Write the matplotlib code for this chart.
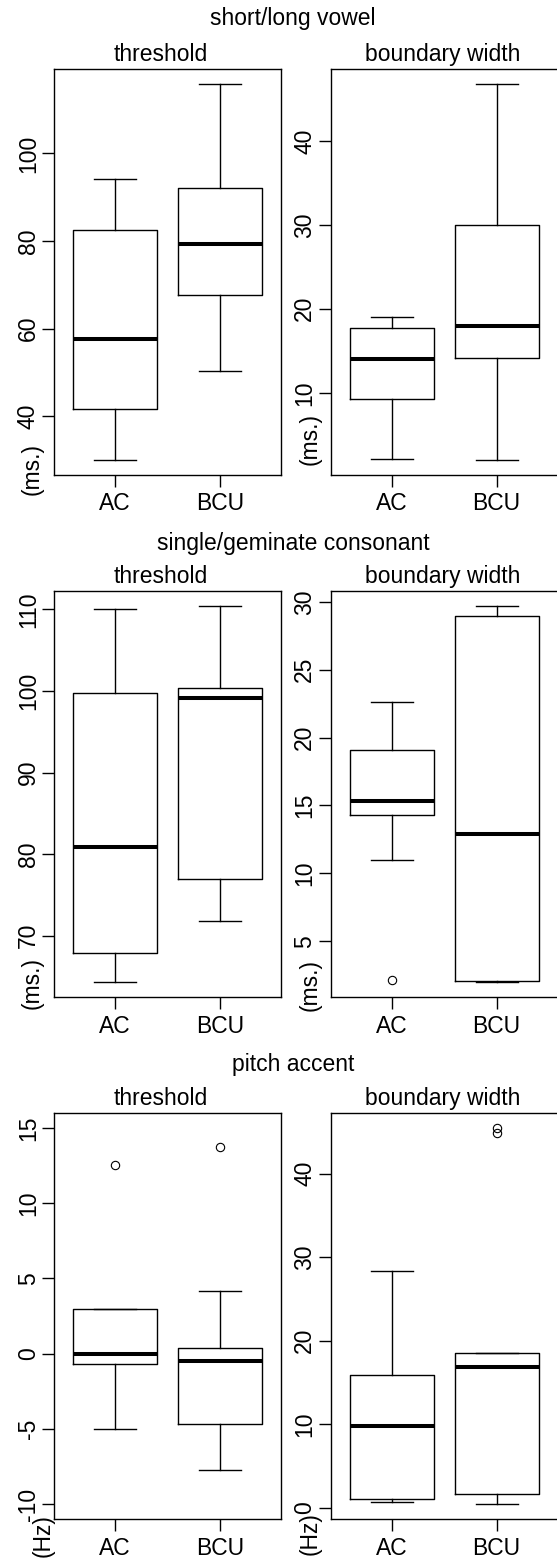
import matplotlib.pyplot as plt

W, H = 557, 1559

groups = ['AC', 'BCU']

# box summaries: whisker low, q1, median, q3, whisker high
vowel_thr_ac = [30.0, 41.7, 57.7, 82.5, 94.1]
vowel_thr_bcu = [50.2, 67.6, 79.2, 92.0, 115.9]
vowel_bw_ac = [2.1, 9.2, 14.0, 17.7, 19.0]
vowel_bw_bcu = [2.0, 14.1, 17.9, 30.0, 46.8]

cons_thr_ac = [64.3, 67.9, 80.9, 99.75, 110.0]
cons_thr_bcu = [71.8, 77.0, 99.1, 100.4, 110.4]
cons_bw_ac = [11.0, 14.3, 15.3, 19.1, 22.6]
cons_bw_bcu = [1.97, 2.05, 12.9, 29.0, 29.7]

pitch_thr_ac = [-5.0, -0.7, -0.05, 2.95, 2.95]
pitch_thr_bcu = [-7.7, -4.7, -0.5, 0.35, 4.15]
pitch_bw_ac = [0.7, 1.0, 9.75, 15.9, 28.4]
pitch_bw_bcu = [0.4, 1.6, 16.9, 18.5, 18.5]

# outliers
cons_bw_ac_out = [2.1]
pitch_thr_ac_out = [12.55]
pitch_thr_bcu_out = [13.75]
pitch_bw_bcu_out = [44.9, 45.5]

# y tick values
vowel_thr_ticks = [40, 60, 80, 100]
vowel_bw_ticks = [10, 20, 30, 40]
cons_thr_ticks = [70, 80, 90, 100, 110]
cons_bw_ticks = [5, 10, 15, 20, 25, 30]
pitch_thr_ticks = [-10, -5, 0, 5, 10, 15]
pitch_bw_ticks = [0, 10, 20, 30, 40]
pitch_thr_range = [-10, 15]

row_titles = ['short/long vowel', 'single/geminate consonant', 'pitch accent']
panel_titles = ['threshold', 'boundary width']
units = ['(ms.)', '(ms.)', '(Hz)']

FONT = 16.5
plt.rcParams['font.family'] = ['Liberation Sans', 'DejaVu Sans']
plt.rcParams['font.size'] = FONT

fig = plt.figure(figsize=(W / 100, H / 100), dpi=100)


def px_axes(x0, y0, x1, y1):
    return fig.add_axes([x0 / W, 1 - y1 / H, (x1 - x0) / W, (y1 - y0) / H])


def px_text(x, y, s, **kw):
    fig.text(x / W, 1 - y / H, s, ha='center', va='center', **kw)


def draw(ax, ac, bcu, ticks, out_ac=(), out_bcu=(), yrange=None):
    stats = []
    for name, s, o in zip(groups, (ac, bcu), (out_ac, out_bcu)):
        stats.append(dict(label=name, whislo=s[0], q1=s[1], med=s[2],
                          q3=s[3], whishi=s[4], fliers=list(o)))
    line = dict(color='black', linewidth=1.0)
    ax.bxp(stats, positions=[1, 2], widths=0.8,
           boxprops=line, whiskerprops=line, capprops=line,
           medianprops=dict(color='black', linewidth=2.9, solid_capstyle='butt'),
           flierprops=dict(marker='o', markerfacecolor='none',
                           markeredgecolor='black', markersize=6,
                           markeredgewidth=0.8))
    if yrange is None:
        vals = list(ac) + list(bcu) + list(out_ac) + list(out_bcu)
        lo, hi = min(vals), max(vals)
    else:
        lo, hi = yrange
    pad = 0.04 * (hi - lo)
    ax.set_ylim(lo - pad, hi + pad)
    ax.set_xlim(0.42, 2.58)
    ax.set_yticks(ticks)
    ax.set_yticklabels([str(t) for t in ticks])
    ax.tick_params(direction='out', length=8.6, width=1.0, labelsize=FONT)
    ax.tick_params(axis='x', pad=4.0)
    ax.tick_params(axis='y', pad=1.8, labelrotation=90)
    for lbl in ax.get_yticklabels():
        lbl.set_va('center')
    for sp in ax.spines.values():
        sp.set_linewidth(1.0)


rows = [
    (vowel_thr_ac, vowel_thr_bcu, vowel_thr_ticks, (), (), None,
     vowel_bw_ac, vowel_bw_bcu, vowel_bw_ticks, (), ()),
    (cons_thr_ac, cons_thr_bcu, cons_thr_ticks, (), (), None,
     cons_bw_ac, cons_bw_bcu, cons_bw_ticks, cons_bw_ac_out, ()),
    (pitch_thr_ac, pitch_thr_bcu, pitch_thr_ticks, pitch_thr_ac_out, pitch_thr_bcu_out, pitch_thr_range,
     pitch_bw_ac, pitch_bw_bcu, pitch_bw_ticks, (), pitch_bw_bcu_out),
]

# pixel layout of each row
box_top = [68.7, 591.0, 1112.7]
box_bot = [475.0, 997.3, 1519.3]
title_y = [18.3, 543.3, 1065.0]
sub_y = [54.3, 576.7, 1098.3]
unit_left = [(32.5, 469), (32.5, 983), (43, 1536)]
unit_right = [(310, 439), (310, 985), (310, 1534)]

for i, r in enumerate(rows):
    (a1, b1, t1, oa1, ob1, yr1, a2, b2, t2, oa2, ob2) = r
    axl = px_axes(54.3, box_top[i], 281.0, box_bot[i])
    draw(axl, a1, b1, t1, oa1, ob1, yr1)
    axr = px_axes(330.7, box_top[i], 557.4, box_bot[i])
    draw(axr, a2, b2, t2, oa2, ob2)
    axr.spines['right'].set_visible(False)

    px_text(293, title_y[i], row_titles[i], fontsize=FONT)
    px_text(160.5, sub_y[i], panel_titles[0], fontsize=FONT)
    px_text(443, sub_y[i], panel_titles[1], fontsize=FONT)
    px_text(unit_left[i][0], unit_left[i][1], units[i], rotation=90, fontsize=FONT)
    px_text(unit_right[i][0], unit_right[i][1], units[i], rotation=90, fontsize=FONT)

fig.savefig('out.png', dpi=100)
